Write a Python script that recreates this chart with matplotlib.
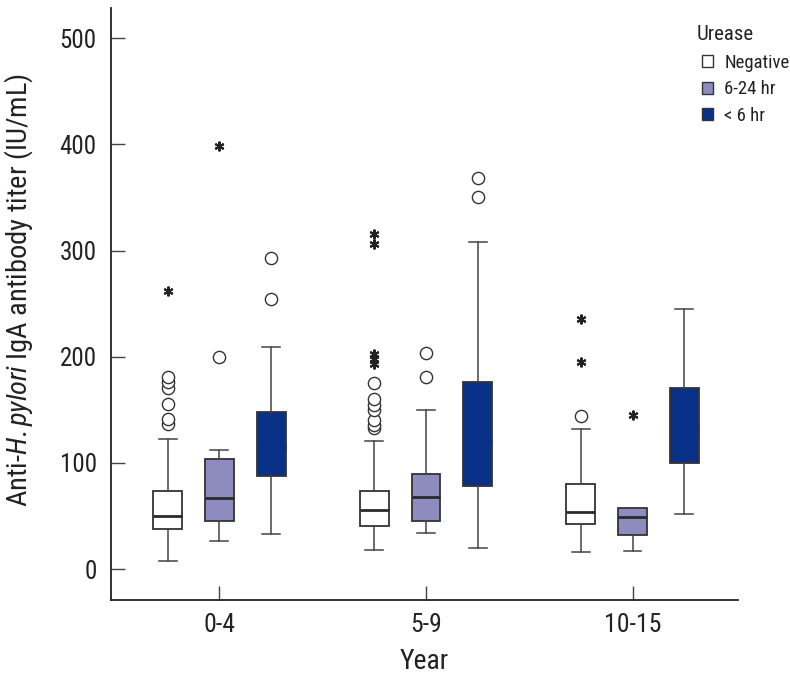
import matplotlib
matplotlib.use("Agg")
import matplotlib.pyplot as plt
from matplotlib.patches import Patch
from matplotlib import font_manager as fm

_installed = {f.name for f in fm.fontManager.ttflist}
_prefs = ['Roboto Condensed', 'Nimbus Sans Narrow', 'Liberation Sans Narrow',
          'Archivo Narrow', 'Asap Condensed', 'Barlow Condensed', 'Liberation Sans']
FONT = next(n for n in _prefs if n in _installed)

plt.rcParams['font.family'] = [FONT, 'DejaVu Sans']
plt.rcParams['mathtext.fontset'] = 'custom'
plt.rcParams['mathtext.rm'] = FONT
plt.rcParams['mathtext.it'] = FONT + ':italic'

# ---------------- data ----------------
groups = ["0-4", "5-9", "10-15"]
series = ["Negative", "6-24 hr", "< 6 hr"]
legend_title = "Urease"

neg_whislo = [8, 18, 16]
neg_q1 = [38, 41, 43]
neg_med = [50, 56, 54]
neg_q3 = [74, 74, 80]
neg_whishi = [123, 121, 132]
neg_circles = [[137, 141, 156, 171, 176, 181], [133, 136, 140, 150, 155, 160, 175], [144]]
neg_stars = [[262], [193, 198, 203, 306, 316], [195, 236]]

pur_whislo = [27, 34, 17]
pur_q1 = [45, 45, 32]
pur_med = [67, 68, 49]
pur_q3 = [104, 90, 58]
pur_whishi = [112, 150, 58]
pur_circles = [[200], [181, 204], []]
pur_stars = [[398], [], [145]]

blu_whislo = [33, 20, 52]
blu_q1 = [88, 78, 100]
blu_med = [115, 120, 130]
blu_q3 = [148, 176, 171]
blu_whishi = [209, 308, 245]
blu_circles = [[254, 293], [350, 368], []]
blu_stars = [[], [], []]

colors = ["#ffffff", "#8e8bbf", "#0a3188"]
median_colors = ["#2a2a2a", "#2a2a2a", "#0a3188"]

all_series = [
    (neg_whislo, neg_q1, neg_med, neg_q3, neg_whishi, neg_circles, neg_stars),
    (pur_whislo, pur_q1, pur_med, pur_q3, pur_whishi, pur_circles, pur_stars),
    (blu_whislo, blu_q1, blu_med, blu_q3, blu_whishi, blu_circles, blu_stars),
]

# ---------------- figure ----------------
W, H = 790, 677
fig = plt.figure(figsize=(W / 100, H / 100), dpi=100)
ax = fig.add_axes([0.140, 0.1137, 0.794, 0.874])

offsets = [-0.25, 0.0, 0.25]
width = 0.14
edge = "#333333"

for si, (wlo, q1, med, q3, whi, circ, stars) in enumerate(all_series):
    stats = []
    for gi in range(len(groups)):
        stats.append(dict(med=med[gi], q1=q1[gi], q3=q3[gi], whislo=wlo[gi],
                          whishi=whi[gi], fliers=circ[gi]))
    pos = [gi + offsets[si] for gi in range(len(groups))]
    ax.bxp(stats, positions=pos, widths=width, capwidths=width * 0.62,
           patch_artist=True, manage_ticks=False,
           boxprops=dict(facecolor=colors[si], edgecolor=edge, linewidth=1.3),
           whiskerprops=dict(color="#444444", linewidth=1.1),
           capprops=dict(color="#444444", linewidth=1.1),
           medianprops=dict(color=median_colors[si], linewidth=2.0),
           flierprops=dict(marker='o', markerfacecolor='white', markeredgecolor='#333333',
                           markersize=8.8, markeredgewidth=1.0, linestyle='none'))
    for gi in range(len(groups)):
        if stars[gi]:
            ax.plot([pos[gi]] * len(stars[gi]), stars[gi], linestyle='none',
                    marker=(6, 2, 0), markersize=7, markeredgewidth=1.5,
                    color='#222222')

ax.set_xlim(-0.527, 2.51)
ax.set_ylim(-29, 528)
ax.set_xticks(range(len(groups)))
ax.set_xticklabels(groups)
ax.set_yticks([0, 100, 200, 300, 400, 500])

for s in ['top', 'right']:
    ax.spines[s].set_visible(False)
for s in ['left', 'bottom']:
    ax.spines[s].set_linewidth(1.3)
    ax.spines[s].set_color('#222222')

ax.tick_params(axis='y', direction='in', length=10, width=1.0, color='#444444',
               labelsize=18, pad=10, labelcolor='#222222')
ax.tick_params(axis='x', direction='in', length=10, width=1.0, color='#444444',
               labelsize=18.5, pad=9, labelcolor='#222222')

ax.set_xlabel("Year", fontsize=20, color='#222222', labelpad=8)
ax.set_ylabel(r"Anti-$\mathit{H. pylori}$ IgA antibody titer (IU/mL)", fontsize=20.5,
              color='#222222')
ax.yaxis.set_label_coords(-0.121, 0.524)

handles = [Patch(facecolor=colors[i], edgecolor=edge, linewidth=1.0) for i in range(3)]
fig.text(697 / W, 1 - 35 / H, legend_title, fontsize=15, color='#222222',
         ha='left', va='center')
leg = fig.legend(handles, series, loc='upper left',
                 bbox_to_anchor=(702 / W, 1 - 54 / H), frameon=False,
                 fontsize=13.5, handlelength=0.6, handleheight=0.6,
                 handletextpad=0.6, labelspacing=0.45, borderpad=0.0,
                 borderaxespad=0.0)
for t in leg.get_texts():
    t.set_color('#222222')

fig.savefig("out.png", dpi=100)
